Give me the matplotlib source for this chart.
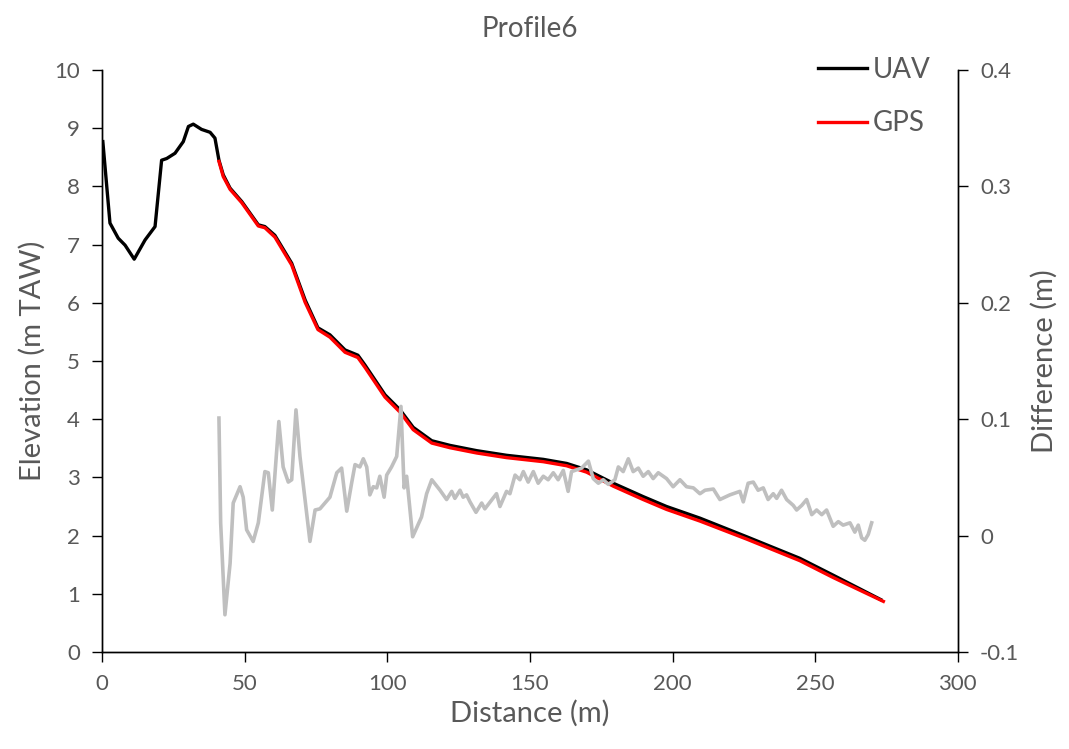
import numpy as np
import matplotlib
matplotlib.use("Agg")
import matplotlib.pyplot as plt
from matplotlib.ticker import FuncFormatter

plt.rcParams['font.family'] = ['Lato', 'DejaVu Sans']
plt.rcParams['axes.unicode_minus'] = False

# UAV elevation profile (distance m, elevation m TAW)
uav_x = [0.3, 2.8, 5.7, 8.1, 11.3, 15.1, 18.6, 20.9, 22.7, 25.6, 28.5, 30.3, 32.0,
         34.9, 37.9, 39.6, 41.0, 42.5, 44.9, 49.0, 54.8, 57.1, 60.6, 66.5, 71.2,
         75.7, 79.9, 85.2, 89.7, 92.2, 99.2, 104.5, 109.1, 115.6, 122.0, 131.3,
         141.8, 154.7, 162.9, 169.9, 179.2, 189.7, 197.9, 209.6, 226.0, 244.6,
         256.3, 273.0]
uav_y = [8.77, 7.37, 7.11, 6.99, 6.75, 7.08, 7.31, 8.45, 8.48, 8.57, 8.77, 9.03, 9.07,
         8.98, 8.93, 8.83, 8.45, 8.20, 7.97, 7.74, 7.34, 7.31, 7.16, 6.68, 6.05,
         5.57, 5.45, 5.19, 5.10, 4.93, 4.42, 4.16, 3.86, 3.63, 3.55, 3.46,
         3.38, 3.31, 3.24, 3.13, 2.90, 2.67, 2.50, 2.30, 1.98, 1.61,
         1.32, 0.90]

# GPS survey points
gps_x = [41.0, 42.5, 44.9, 49.0, 54.8, 57.1, 60.6, 66.5, 71.2, 75.7, 79.9, 85.2,
         89.7, 92.2, 99.2, 104.5, 109.1, 115.6, 122.0, 131.3, 141.8, 154.7, 162.9,
         169.9, 179.2, 189.7, 197.9, 209.6, 226.0, 244.6, 256.3, 273.9]
gps_y = [8.43, 8.17, 7.95, 7.72, 7.32, 7.29, 7.13, 6.65, 6.01, 5.54, 5.41, 5.15,
         5.06, 4.89, 4.38, 4.12, 3.82, 3.59, 3.51, 3.42, 3.34, 3.27, 3.20,
         3.09, 2.85, 2.62, 2.45, 2.25, 1.94, 1.57, 1.28, 0.87]

# UAV - GPS difference (m)
diff_x = [41.0, 41.6, 43.1, 44.9, 46.0, 48.4, 49.5, 50.7, 53.0, 54.8, 57.1, 58.3,
          59.7, 62.0, 63.5, 65.3, 66.5, 68.0, 69.4, 72.9, 74.7, 76.4, 79.9, 82.3,
          84.0, 85.8, 87.5, 88.7, 90.4, 91.6, 92.8, 93.9, 95.1, 96.3, 97.4, 98.9,
          99.8, 101.5, 103.3, 104.8, 105.9, 106.8, 108.9, 112.0, 113.8, 115.6,
          118.5, 120.8, 122.6, 123.7, 125.5, 126.6, 127.8, 129.0, 131.1, 133.1,
          134.2, 138.3, 139.5, 141.8, 143.0, 144.8, 146.5, 147.7, 149.4, 151.2,
          152.9, 154.7, 156.4, 158.2, 159.9, 161.7, 163.4, 164.6, 168.1, 170.5,
          172.2, 174.0, 175.7, 177.5, 179.8, 181.0, 182.7, 184.5, 186.2, 188.0,
          189.7, 191.5, 193.2, 195.0, 197.9, 200.2, 202.6, 204.9, 207.3, 209.6,
          211.4, 214.3, 216.6, 220.1, 223.6, 224.8, 226.5, 228.3, 230.0, 231.8,
          233.5, 235.3, 236.5, 238.2, 240.0, 242.3, 243.5, 245.3, 247.0, 248.8,
          250.5, 252.3, 254.0, 256.3, 258.1, 259.8, 262.2, 263.9, 265.1, 266.3,
          267.4, 268.6, 269.8]
diff_y = [0.101, 0.011, -0.068, -0.024, 0.028, 0.042, 0.033, 0.005, -0.005, 0.011,
          0.055, 0.054, 0.022, 0.098, 0.059, 0.046, 0.048, 0.108, 0.068, -0.005,
          0.022, 0.023, 0.033, 0.054, 0.058, 0.021, 0.045, 0.061, 0.059, 0.066,
          0.059, 0.035, 0.042, 0.041, 0.051, 0.033, 0.052, 0.059, 0.068, 0.111,
          0.041, 0.051, -0.001, 0.016, 0.036, 0.048, 0.039, 0.031, 0.038, 0.032,
          0.039, 0.033, 0.035, 0.029, 0.020, 0.028, 0.023, 0.036, 0.025, 0.038,
          0.036, 0.052, 0.048, 0.055, 0.046, 0.055, 0.045, 0.051, 0.048, 0.054,
          0.048, 0.056, 0.038, 0.055, 0.058, 0.064, 0.049, 0.045, 0.048, 0.044,
          0.048, 0.059, 0.055, 0.066, 0.055, 0.058, 0.051, 0.055, 0.049, 0.054,
          0.049, 0.042, 0.048, 0.042, 0.041, 0.036, 0.039, 0.040, 0.031, 0.035,
          0.038, 0.029, 0.045, 0.046, 0.039, 0.041, 0.031, 0.036, 0.032, 0.039,
          0.031, 0.026, 0.022, 0.026, 0.031, 0.018, 0.022, 0.018, 0.022, 0.008,
          0.012, 0.009, 0.011, 0.003, 0.009, -0.002, -0.004, 0.001, 0.011]

grey = '#595959'

fig = plt.figure(figsize=(10.69, 7.49), dpi=100)
ax = fig.add_axes([0.0954, 0.1295, 0.8006, 0.777])
ax.plot(uav_x, uav_y, color='black', lw=2.4, label='UAV', solid_joinstyle='round')
ax.plot(gps_x, gps_y, color='#FF0000', lw=2.4, label='GPS', solid_joinstyle='round')
ax.set_xlim(0, 300)
ax.set_ylim(0, 10)
ax.set_xticks(np.arange(0, 301, 50))
ax.set_yticks(np.arange(0, 11, 1))

ax2 = ax.twinx()
ax2.plot(diff_x, diff_y, color='#BFBFBF', lw=2.6, solid_joinstyle='round')
ax2.set_ylim(-0.1, 0.4)
ax2.set_yticks(np.arange(-0.1, 0.41, 0.1))
ax2.yaxis.set_major_formatter(FuncFormatter(lambda v, p: '{:g}'.format(round(v, 2))))

for a in (ax, ax2):
    a.spines['top'].set_visible(False)
    for s in ('left', 'right', 'bottom'):
        a.spines[s].set_color('black')
        a.spines[s].set_linewidth(1.0)
    a.tick_params(direction='out', length=7, width=1.0, colors='black',
                  labelcolor=grey, labelsize=16, pad=9)

ax.set_xlabel('Distance (m)', fontsize=21, color=grey, labelpad=4)
ax.set_ylabel('Elevation (m TAW)', fontsize=21, color=grey, labelpad=6)
ax2.set_ylabel('Difference (m)', fontsize=21, color=grey, labelpad=8)
ax.set_title('Profile6', fontsize=20, color=grey, pad=24)

leg = ax.legend(loc='upper right', bbox_to_anchor=(0.997, 1.066), frameon=False,
                fontsize=20, handlelength=1.75, handletextpad=0.2, labelspacing=1.0)
for t in leg.get_texts():
    t.set_color(grey)

fig.savefig('out.png', dpi=100)
